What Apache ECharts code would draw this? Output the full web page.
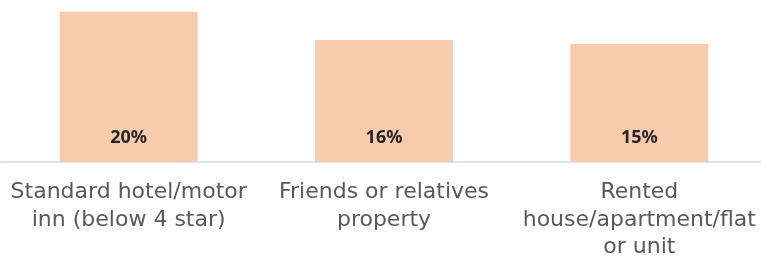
<!DOCTYPE html>
<html><head><meta charset="utf-8">
<script src="https://cdn.jsdelivr.net/npm/echarts@6/dist/echarts.min.js"></script>
<style>html,body{margin:0;padding:0;background:#fff}#c{width:761px;height:257px}</style>
</head><body><div id="c"></div>
<script>
const categories = ['Standard hotel/motor\ninn (below 4 star)', 'Friends or relatives\nproperty', 'Rented\nhouse/apartment/flat\nor unit'];
const values = [19.6, 15.9, 15.4];

const chart = echarts.init(document.getElementById('c'));
chart.setOption({
  animation: false,
  grid: {left: 1, top: 0, width: 766, height: 162, containLabel: false, outerBoundsMode: 'none'},
  xAxis: {
    type: 'category', data: categories,
    axisTick: {show: false},
    axisLine: {lineStyle: {color: '#dce1ea', width: 2}},
    axisLabel: {color: '#595959', fontFamily: 'DejaVu Sans', fontSize: 22, lineHeight: 27.5, margin: 17, interval: 0}
  },
  yAxis: {type: 'value', min: 0, max: 21.13, show: false, splitLine: {show: false}},
  series: [{
    type: 'bar', data: values, barWidth: 138,
    itemStyle: {color: '#f8cbad'},
    label: {show: true, position: 'insideBottom', distance: 15, color: '#262626', fontWeight: 'bold', fontFamily: 'Noto Sans', fontSize: 18,
      formatter: p => Math.round(p.value) + '%'}
  }]
});
</script></body></html>
